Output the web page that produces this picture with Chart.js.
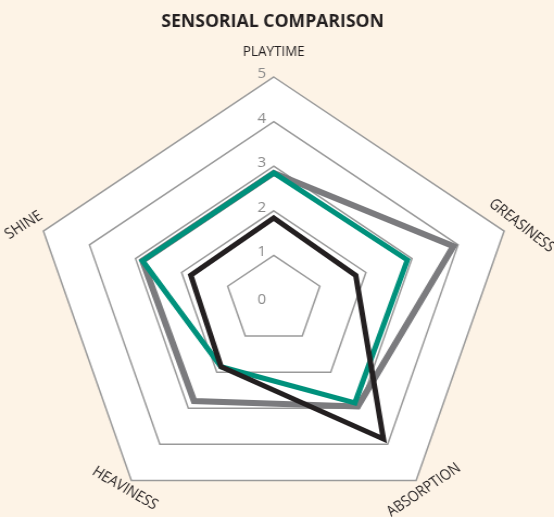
<!DOCTYPE html>
<html>
<head>
<meta charset="utf-8">
<script src="https://cdn.jsdelivr.net/npm/chart.js@4/dist/chart.umd.min.js"></script>
<style>
  html, body { margin: 0; padding: 0; background: #fdf3e6; overflow: hidden; }
  #wrap { width: 510px; height: 560px; transform: scaleX(1.0863); transform-origin: 0 0; }
</style>
</head>
<body>
<div id="wrap"><canvas id="chart"></canvas></div>
<script>
// data
const title = "SENSORIAL COMPARISON";
const categories = ["PLAYTIME", "GREASINESS", "ABSORPTION", "HEAVINESS", "SHINE"];
const tickValues = [0, 1, 2, 3, 4, 5];
const blackSeries = [1.84, 1.78, 3.85, 1.85, 1.8];
const tealSeries = [2.85, 2.9, 2.85, 1.85, 2.85];
const graySeries = [2.85, 3.9, 2.95, 2.8, 2.85];

// label placement (gap from outer ring, rotation, max width)
const labelGap = [25, 17, 12, 10, 19];
const labelAngle = [0, 40, -36, 32, -34];
const labelWidth = [57, 74, 80, 68, 38];

const overlay = {
  id: "overlay",
  afterDraw(chart) {
    const ctx = chart.ctx;
    const r = chart.scales.r;
    ctx.save();

    // title
    ctx.fillStyle = "#231f20";
    ctx.font = 'bold 18px "Open Sans", sans-serif';
    ctx.textAlign = "center";
    ctx.textBaseline = "alphabetic";
    ctx.fillText(title, r.xCenter - 1, 27, 205);

    // tick labels, left of the vertical axis
    ctx.fillStyle = "#8c8c8c";
    ctx.font = '14px "Open Sans", sans-serif';
    ctx.textBaseline = "middle";
    tickValues.forEach(v => {
      const d = r.getDistanceFromCenterForValue(v);
      ctx.fillText(String(v), r.xCenter - 11, r.yCenter - d - (v > 0 ? 3 : 0));
    });

    // rotated point labels
    ctx.fillStyle = "#231f20";
    ctx.font = '15px "Open Sans", sans-serif';
    categories.forEach((name, i) => {
      const p = r.getPointPosition(i, r.drawingArea + labelGap[i]);
      ctx.save();
      ctx.translate(p.x, p.y);
      ctx.rotate(labelAngle[i] * Math.PI / 180);
      ctx.fillText(name, 0, 0, labelWidth[i]);
      ctx.restore();
    });
    ctx.restore();
  }
};

const ctx = document.getElementById("chart");
new Chart(ctx, {
  type: "radar",
  data: {
    labels: categories,
    datasets: [
      { data: blackSeries, borderColor: "#231f20", borderWidth: 5 },
      { data: tealSeries, borderColor: "#00917c", borderWidth: 5 },
      { data: graySeries, borderColor: "#7b7b7e", borderWidth: 6 }
    ]
  },
  options: {
    responsive: true,
    maintainAspectRatio: false,
    animation: false,
    layout: { padding: { left: 29, right: 35, top: 77, bottom: 37 } },
    elements: {
      line: { fill: false, tension: 0, borderJoinStyle: "miter" },
      point: { radius: 0, hoverRadius: 0 }
    },
    plugins: { legend: { display: false }, tooltip: { enabled: false } },
    scales: {
      r: {
        min: 0,
        max: 5,
        backgroundColor: "#ffffff",
        ticks: { display: false, stepSize: 1 },
        grid: { color: "#9a9a9a", lineWidth: 1.5 },
        angleLines: { display: false },
        pointLabels: { display: false }
      }
    }
  },
  plugins: [overlay]
});
</script>
</body>
</html>
